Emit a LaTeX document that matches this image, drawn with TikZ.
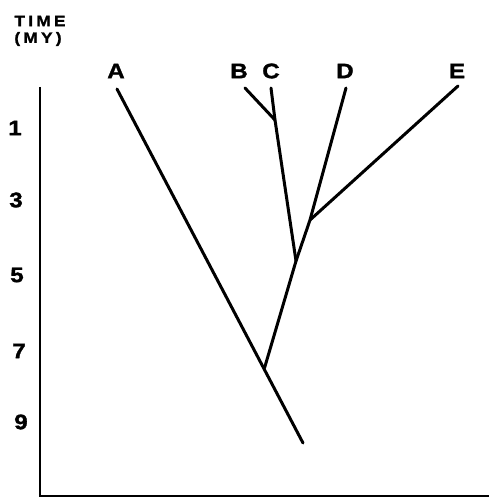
\documentclass[tikz,border=0pt]{standalone}
\usepackage{fontspec}
\setmainfont{Liberation Sans}[FakeStretch=1.15]
\begin{document}
\begin{tikzpicture}[x=1pt,y=-1pt,
  branch/.style={line width=3pt,line cap=round},
  axisline/.style={line width=2.6pt},
  taxon/.style={font=\fontsize{21}{21}\selectfont\bfseries\addfontfeature{FakeBold=1.5},inner sep=0pt},
  tick/.style={font=\fontsize{21}{21}\selectfont\bfseries\addfontfeature{FakeBold=1.5},inner sep=0pt},
  head/.style={font=\fontsize{15}{15}\selectfont\bfseries\addfontfeature{LetterSpace=22,FakeBold=1.5},inner sep=0pt}]
\useasboundingbox (0,0) rectangle (489,497);
% axis
\coordinate (ax0) at (40,87);
\coordinate (ax1) at (40,496);
\coordinate (ax2) at (489,496);
\draw[axisline] (ax0) -- (ax1) -- (ax2);
\node[head] (t1) at (40,21) {TIME};
\node[head] (t2) at (38,39) {(MY)};
\node[tick] (y1) at (15,128) {1};
\node[tick] (y3) at (16,200) {3};
\node[tick] (y5) at (17,275) {5};
\node[tick] (y7) at (19,351) {7};
\node[tick] (y9) at (21,422) {9};
% taxa labels
\node[taxon] (A) at (116,71) {A};
\node[taxon] (B) at (239,71) {B};
\node[taxon] (C) at (271,71) {C};
\node[taxon] (D) at (345,71) {D};
\node[taxon] (E) at (457,71) {E};
% tree coordinates
\coordinate (tA) at (117,89);
\coordinate (bA) at (303,443);
\coordinate (j1) at (264.5,368);
\coordinate (j2) at (296,261);
\coordinate (j3) at (310,220);
\coordinate (j4) at (275,120);
\coordinate (tB) at (245,88);
\coordinate (tC) at (271,88);
\coordinate (tD) at (346,88);
\coordinate (tE) at (458,86);
\draw[branch] (tA) -- (bA);
\draw[branch] (j1) -- (j2) -- (j3) -- (tD);
\draw[branch] (j3) -- (tE);
\draw[branch] (j2) -- (j4) -- (tC);
\draw[branch] (j4) -- (tB);
\end{tikzpicture}
\end{document}
